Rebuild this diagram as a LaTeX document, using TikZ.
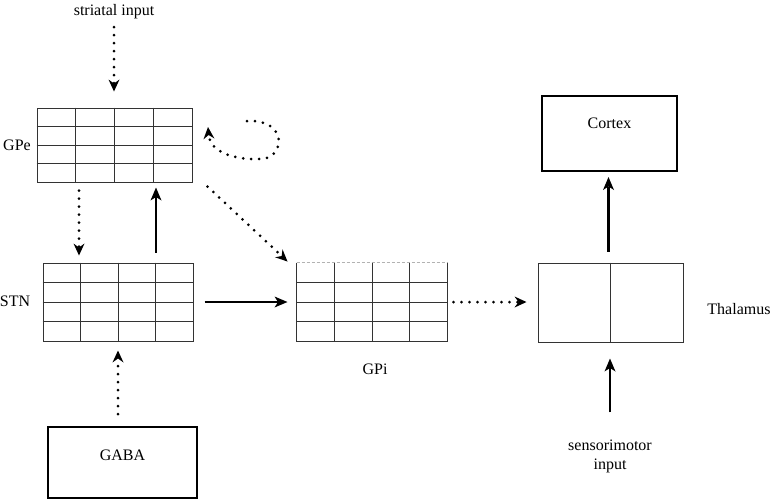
\documentclass[tikz,border=0pt]{standalone}
\usepackage{fontspec}
\setmainfont{Liberation Serif}
\usetikzlibrary{arrows.meta,calc}
\newcommand\mkgrid[1]{%
  \foreach \i in {0.25,0.5,0.75}{%
    \draw[gridline] ($(#1.north west)!\i!(#1.north east)$) -- ($(#1.south west)!\i!(#1.south east)$);
    \draw[gridline] ($(#1.north west)!\i!(#1.south west)$) -- ($(#1.north east)!\i!(#1.south east)$);
  }}
\begin{document}
\begin{tikzpicture}[x=1pt,y=-1pt,
  font=\fontsize{16}{19}\selectfont,
  gridline/.style={draw=black!80,line width=1pt},
  gridbox/.style={draw=black!80,line width=1pt,inner sep=0pt,minimum height=78pt},
  thickbox/.style={draw=black,line width=2pt,inner sep=0pt},
  lbl/.style={inner sep=0pt,text height=12pt,text depth=4pt},
  dotarrow/.style={line width=3pt,line cap=round,dash pattern=on 0pt off 8pt,
    -{Stealth[length=12pt,width=11pt,inset=4pt,line width=0pt]}},
  solidarrow/.style={line width=2.5pt,
    -{Stealth[length=13pt,width=11pt,inset=3.5pt,line width=0pt]}}
]
\useasboundingbox (0,0) rectangle (771,499);

% grids
\node[gridbox,minimum width=155pt,minimum height=74pt] (GPe) at (114.5,145) {};
\mkgrid{GPe}
\node[gridbox,minimum width=150pt] (STN) at (118,302) {};
\mkgrid{STN}
\node[gridbox,draw=none,minimum width=150pt] (GPi) at (372,302) {};
\draw[gridline] (GPi.north west) -- (GPi.south west) -- (GPi.south east) -- (GPi.north east);
\draw[gray!60,line width=0.8pt,densely dashed] (GPi.north west) -- (GPi.north east);
\mkgrid{GPi}

% thalamus
\node[gridbox,minimum width=145pt,minimum height=79pt] (thal) at (610.5,302.5) {};
\draw[gridline] (thal.north) -- (thal.south);

% boxes
\node[thickbox,minimum width=135pt,minimum height=75pt] (cortex) at (609.5,133.5) {};
\node[thickbox,minimum width=149pt,minimum height=71pt] (gaba) at (122.5,462.5) {};

% labels
\node[lbl] (striatal) at (114,11) {striatal input};
\node[lbl] (GPeL) at (17,146) {GPe};
\node[lbl] (STNL) at (15,302) {STN};
\node[lbl] (GPiL) at (375,370) {GPi};
\node[lbl] (thalL) at (739,310) {Thalamus};
\node[lbl] (cortexL) at (609.5,124) {Cortex};
\node[lbl] (gabaL) at (122.5,456) {GABA};
\node[inner sep=0pt,align=center] (sensor) at (610,456) {sensorimotor\\input};

% connectors
\draw[dotarrow,shorten <=8pt,shorten >=16pt] (striatal.south) -- (striatal.south |- GPe.north);
\draw[dotarrow,shorten <=8pt,shorten >=7pt] ([xshift=-35.5pt]GPe.south) -- ([xshift=-39pt]STN.north);
\draw[solidarrow,shorten <=10pt,shorten >=5pt] ([xshift=38pt]STN.north) -- ([xshift=41.5pt]GPe.south);
\draw[dotarrow] ([shift={(15,4)}]GPe.south east) -- ([shift={(-9,-1)}]GPi.north west);
\coordinate (loopS) at (247,121);
\coordinate (loopE) at (208,127);
\draw[dotarrow] (loopS) .. controls (290,119) and (285,161) .. (258,159)
  .. controls (235,160) and (210,152) .. (loopE);
\draw[solidarrow,shorten <=11pt,shorten >=9pt] (STN.east) -- (GPi.west);
\draw[dotarrow,shorten <=6pt,shorten >=11pt] (GPi.east) -- (GPi.east -| thal.west);
\draw[solidarrow,shorten <=11pt,shorten >=5pt] ([xshift=-2pt]thal.north) -- ([xshift=-1pt]cortex.south);
\draw[solidarrow,shorten <=27pt,shorten >=16pt] (sensor.north) -- (sensor.north |- thal.south);
\draw[dotarrow,shorten <=12pt,shorten >=9pt] ([xshift=-4.5pt]gaba.north) -- (STN.south);
\end{tikzpicture}
\end{document}
